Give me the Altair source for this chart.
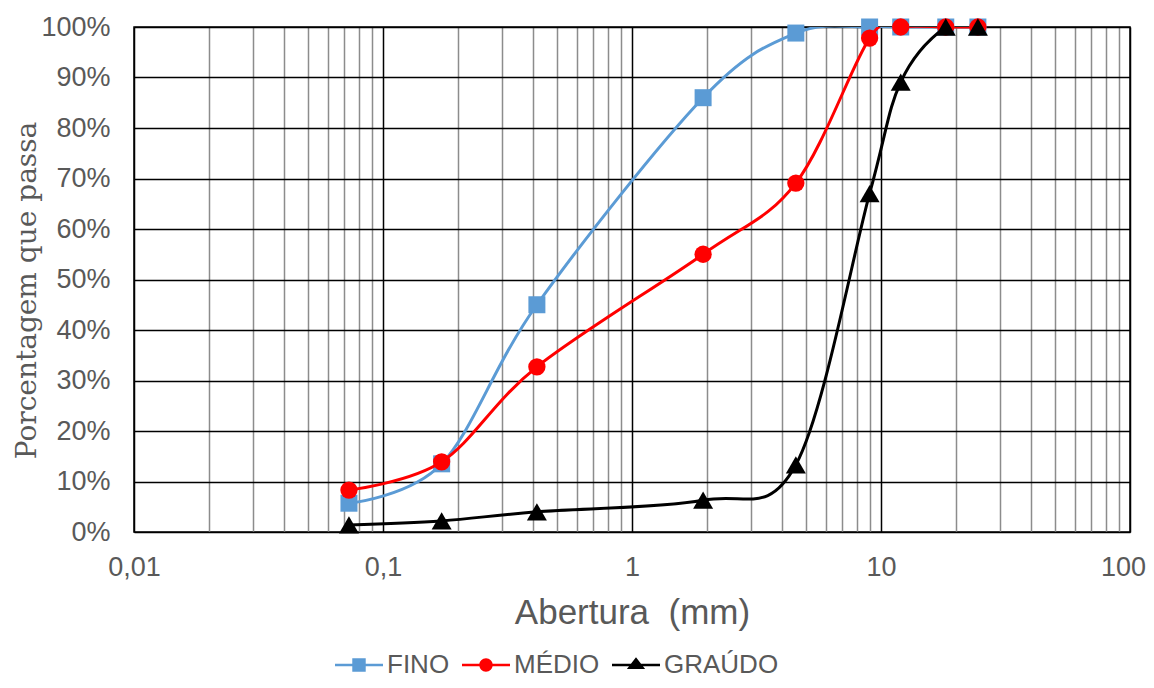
import altair as alt
import pandas as pd

# Data
aberturas = [0.073, 0.172, 0.415, 1.93, 4.55, 9.0, 12.0, 18.2, 24.5]
fino = [5.7, 13.5, 45.0, 86.0, 98.8, 100, 100, 100, 100]
medio = [8.3, 13.9, 32.7, 55.0, 69.1, 97.8, 100, 100, 100]
graudo = [1.4, 2.2, 4.0, 6.3, 13.3, 67.0, 89.1, 100, 100]

series = ["FINO", "MÉDIO", "GRAÚDO"]
cores = ["#5B9BD5", "#FF0000", "#000000"]
formas = ["square", "circle", "triangle-up"]
tamanhos = [289, 300, 400]

x_grid = [0.01, 0.02, 0.03, 0.04, 0.05, 0.06, 0.07, 0.08, 0.09,
          0.1, 0.2, 0.3, 0.4, 0.5, 0.6, 0.7, 0.8, 0.9,
          1, 2, 3, 4, 5, 6, 7, 8, 9,
          10, 20, 30, 40, 50, 60, 70, 80, 90, 100]
y_ticks = [0, 0.1, 0.2, 0.3, 0.4, 0.5, 0.6, 0.7, 0.8, 0.9, 1.0]

# legend symbols: line segment + marker (custom SVG paths)
legend_paths = [
    "M-1,-0.055H1V0.055H-1Z M-0.28,-0.28H0.28V0.28H-0.28Z",
    "M-1,-0.055H1V0.055H-1Z M0.28,0A0.28,0.28 0 1,1 -0.28,0A0.28,0.28 0 1,1 0.28,0Z",
    "M-1,-0.055H1V0.055H-1Z M0,-0.32L0.38,0.17H-0.38Z",
]

rows = []
for nome, vals in zip(series, [fino, medio, graudo]):
    for a, v in zip(aberturas, vals):
        rows.append({"serie": nome, "abertura": a, "passa": v / 100})
df = pd.DataFrame(rows)

major = "abs(log(datum.value)/LN10 - round(log(datum.value)/LN10)) < 0.001"

X = alt.X(
    "abertura:Q",
    scale=alt.Scale(type="log", domain=[0.01, 100], nice=False),
    axis=alt.Axis(
        values=x_grid,
        labelExpr=f"{major} ? replace('' + datum.value, '.', ',') : ''",
        labelOverlap=False,
        labelFlush=False,
        labelOffset={"condition": {"test": "datum.value >= 100", "value": -7}, "value": 0},
        grid=True,
        gridColor={"condition": {"test": major, "value": "#000000"}, "value": "#8C8C8C"},
        gridWidth=1.5,
        ticks=False,
        domain=False,
        labelFont="Liberation Sans",
        labelFontSize=27,
        labelColor="#595959",
        labelPadding=22,
        title="Abertura\u00a0 (mm)",
        titleFont="Liberation Sans",
        titleFontSize=35,
        titleFontWeight="normal",
        titleColor="#595959",
        titleX=498,
        titleY=80,
        titleAlign="center",
        titleBaseline="middle",
    ),
)

Y = alt.Y(
    "passa:Q",
    scale=alt.Scale(domain=[0, 1], nice=False),
    axis=alt.Axis(
        values=y_ticks,
        format=".0%",
        grid=True,
        gridColor="#000000",
        gridWidth=1.5,
        ticks=False,
        domain=False,
        labelFont="Liberation Sans",
        labelFontSize=27,
        labelColor="#595959",
        labelPadding=24,
        title="Porcentagem que passa",
        titleFont="DejaVu Serif",
        titleFontSize=28,
        titleFontWeight="normal",
        titleColor="#595959",
        titleX=-107,
        titleY=263,
        titleAngle=270,
        titleAlign="center",
        titleBaseline="middle",
    ),
)

base = alt.Chart(df)
layers = []
for s, c, f, t in zip(series, cores, formas, tamanhos):
    sub = base.transform_filter(alt.datum.serie == s)
    layers.append(
        sub.mark_line(interpolate="cardinal", tension=0, color=c, strokeWidth=3, clip=True)
        .encode(x=X, y=Y)
    )
    layers.append(
        sub.mark_point(shape=f, size=t, filled=True, color=c, opacity=1, strokeWidth=0)
        .encode(x=X, y=Y)
    )

legend_kw = dict(
    title=None,
    orient="none",
    direction="horizontal",
    legendX=201,
    legendY=614,
    labelFont="Liberation Sans",
    labelFontSize=26,
    labelColor="#595959",
    labelOffset=4,
    columnPadding=12,
    symbolSize=2304,
    symbolOpacity=1,
    symbolStrokeWidth=0,
    padding=0,
)

legend_layer = base.mark_point(filled=True, opacity=0, size=2304).encode(
    color=alt.Color("serie:N", scale=alt.Scale(domain=series, range=cores),
                    legend=alt.Legend(**legend_kw)),
    shape=alt.Shape("serie:N", scale=alt.Scale(domain=series, range=legend_paths),
                    legend=alt.Legend(**legend_kw)),
)
layers.append(legend_layer)

chart = (
    alt.layer(*layers)
    .properties(
        width=996,
        height=505,
        padding={"left": 126, "top": 19, "right": 16, "bottom": 148},
        autosize=alt.AutoSizeParams(type="none"),
        background="white",
    )
    .configure_view(stroke="#000000", strokeWidth=1.5)
)

chart.save("out.html", embed_options={"renderer": "svg", "actions": False})
